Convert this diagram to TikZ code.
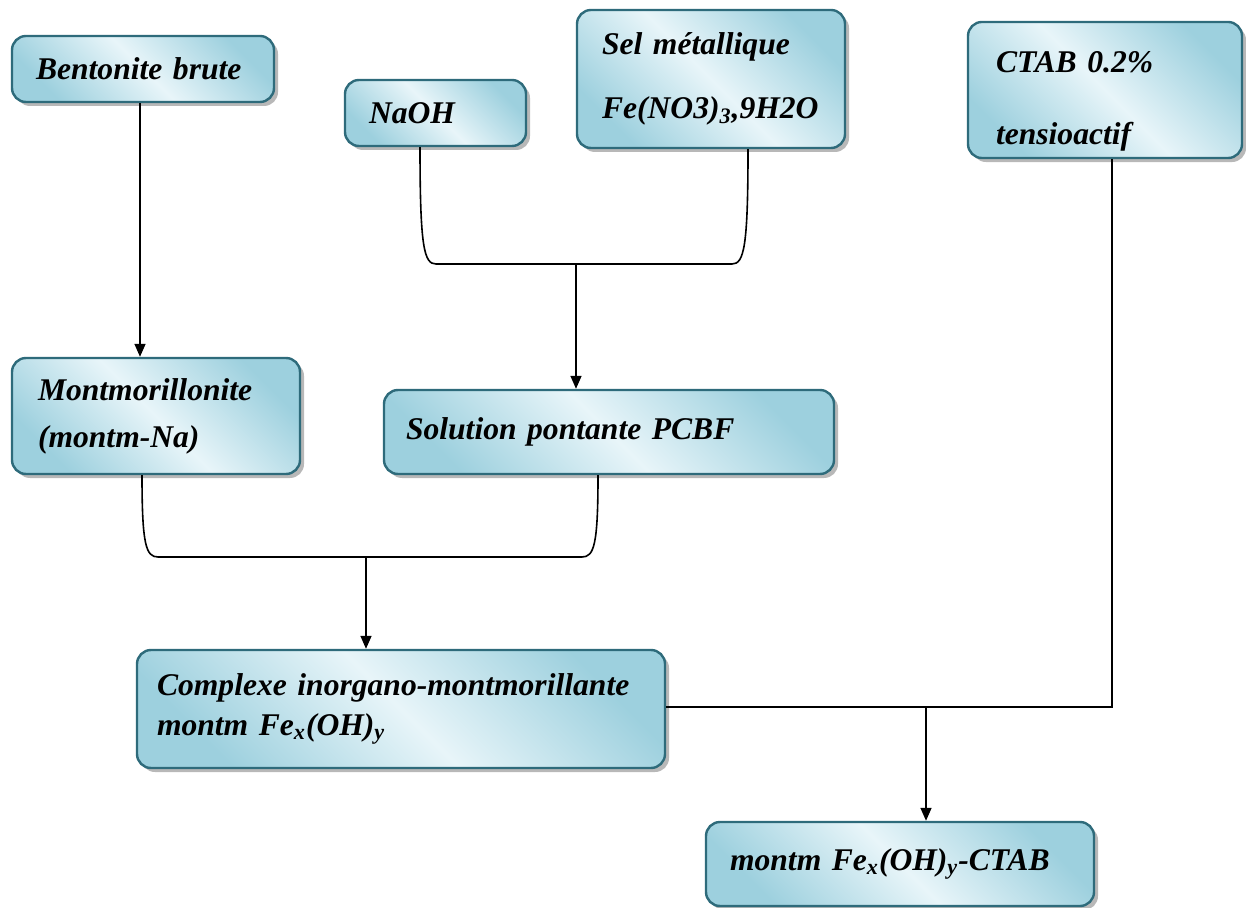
\documentclass[tikz,border=0pt]{standalone}
\usepackage{fontspec}
\setmainfont{Liberation Serif}
\usetikzlibrary{arrows.meta,shadows}
\definecolor{boxline}{HTML}{2E6B7B}
\definecolor{boxdark}{HTML}{9DD0DE}
\definecolor{boxlight}{HTML}{E8F5F9}
\tikzset{
    flow-box/.style = {draw=boxline, line width=1.2pt, rectangle, rounded corners=7pt, top color=boxdark, bottom color=boxdark, middle color=boxlight, shading angle=-45, drop shadow={shadow xshift=2pt, shadow yshift=-2pt, fill=gray!70, opacity=0.8}, align=left, inner xsep=12pt, font=\fontsize{15.8}{19}\selectfont\bfseries\itshape},
    flow-line/.style = {draw, line width=0.8pt},
    flow-arrow/.style = {draw, line width=0.8pt, -{Triangle[width=5.5pt,length=6.5pt]}},
}

\begin{document}
\begin{tikzpicture}[x=0.5pt, y=-0.5pt]
\useasboundingbox (0,0) rectangle (1246,908);
% starting materials
\node [flow-box, text width=107pt, minimum height=33pt] (bentonite) at (143,69) {Bentonite brute};
\node [flow-box, text width=66.5pt, minimum height=33pt] (naoh) at (435.5,113) {NaOH};
\node [flow-box, text width=109pt, inner xsep=12.5pt, minimum height=69pt] (sel) at (711,79) {Sel métallique\\[13pt]Fe(NO3)\textsubscript{3},9H2O};
\node [flow-box, text width=109pt, inner xsep=14pt, minimum height=66pt] (ctab) at (1105,90) {\rule{0pt}{22pt}CTAB 0.2\%\\[17pt]tensioactif};
% intermediates
\node [flow-box, text width=118pt, inner xsep=13pt, minimum height=58pt] (montm) at (156,416) {Montmorillonite\\[4.5pt](montm-Na)};
\node [flow-box, text width=203pt, inner xsep=11pt, minimum height=42pt] (pcbf) at (609,432) {Solution pontante PCBF};
\node [flow-box, text width=244pt, inner xsep=10pt, minimum height=59pt] (complexe) at (401,709) {Complexe inorgano-montmorillante\\[1pt]montm Fe\textsubscript{x}(OH)\textsubscript{y}};
% product
\node [flow-box, text width=170pt, minimum height=42pt] (final) at (900,864) {montm Fe\textsubscript{x}(OH)\textsubscript{y}-CTAB};
% junction points
\coordinate (j1) at (576,264);
\coordinate (j2) at (366,557);
\coordinate (j3) at (926,707);
% connectors
\draw [flow-arrow] ([xshift=-1.5pt]bentonite.south) -- ([xshift=-1.5pt]bentonite.south |- montm.north);
\draw [flow-line] ([xshift=-7.75pt]naoh.south) .. controls +(0,-50pt) and +(-6pt,0) .. ([xshift=0.25pt]naoh.south |- j1)
    -- ([xshift=10.5pt]sel.south |- j1) .. controls +(6pt,0) and +(0,-49pt) .. ([xshift=18.5pt]sel.south);
\draw [flow-arrow] (j1) -- (j1 |- pcbf.north);
\draw [flow-line] ([xshift=-7pt]montm.south) .. controls +(0,-35pt) and +(-6pt,0) .. ([xshift=1pt]montm.south |- j2)
    -- ([xshift=-13.5pt]pcbf.south |- j2) .. controls +(6pt,0) and +(0,-35pt) .. ([xshift=-5.5pt]pcbf.south);
\draw [flow-arrow] (j2) -- (j2 |- complexe.north);
\draw [flow-line] (complexe.east |- j3) -| ([xshift=3.5pt]ctab.south);
\draw [flow-arrow] (j3) -- (j3 |- final.north);
\end{tikzpicture}
\end{document}
